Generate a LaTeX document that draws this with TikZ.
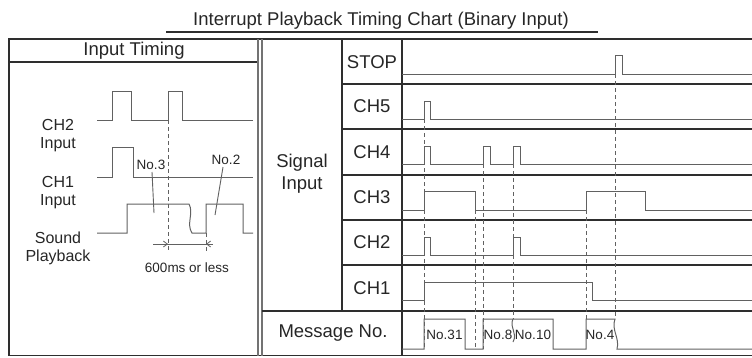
\documentclass[tikz,border=0pt]{standalone}
\usepackage{fontspec}
\setmainfont{Liberation Sans}
\usetikzlibrary{arrows.meta}
\begin{document}
\begin{tikzpicture}[x=1pt,y=-1pt,
  frame/.style={draw=black!82,line width=1.1pt},
  dbl/.style={draw=black!55,line width=1.1pt},
  wave/.style={draw=black!62,line width=1pt},
  guide/.style={draw=black!62,line width=0.9pt,dash pattern=on 4pt off 3pt},
  big/.style={font=\fontsize{18.5}{20}\selectfont,text=black!85,inner sep=0pt},
  mid/.style={font=\fontsize{16}{18}\selectfont,text=black!85,align=center,inner sep=0pt},
  small/.style={font=\fontsize{13.5}{15}\selectfont,text=black!85,inner sep=0pt}]
\useasboundingbox (0,0) rectangle (752,357);

% heading
\node[big] (title) at (381,21) {Interrupt Playback Timing Chart (Binary Input)};
\draw[frame] (166,32) -- (598,32);

% table frame
\draw[frame] (752,39) -- (9,39) -- (9,355.5) -- (752,355.5);
\draw[frame] (9,62) -- (258,62);
\draw[dbl] (258,39) -- (258,355.5);
\draw[dbl] (262,39) -- (262,355.5);
\draw[frame] (342,39) -- (342,311);
\draw[frame] (402,39) -- (402,355.5);
\foreach \y in {84,129,175,220,265} \draw[frame] (342,\y) -- (752,\y);
\draw[frame] (262,311) -- (752,311);

% column and row headings
\node[big] (hdr) at (134,51) {Input Timing};
\node[big,align=center] (sig) at (302,174) {Signal\\[2pt]Input};
\node[big] (stop) at (372,62) {STOP};
\node[big] (ch5) at (372,106.5) {CH5};
\node[big] (ch4) at (372,152) {CH4};
\node[big] (ch3) at (372,197.5) {CH3};
\node[big] (ch2) at (372,242.5) {CH2};
\node[big] (ch1) at (372,288) {CH1};
\node[big] (msg) at (333,333) {Message No.};

% input timing panel
\node[mid] (l2) at (58,136) {CH2\\Input};
\node[mid] (l1) at (58,193) {CH1\\Input};
\node[mid] (ls) at (58,248) {Sound\\Playback};

\draw[wave] (97,120) -- (112,120) -- (112,91) -- (131,91) -- (131,120) -- (168,120)
  -- (168,91) -- (182,91) -- (182,120) -- (253,120);
\draw[wave] (97,177) -- (112,177) -- (112,147) -- (133,147) -- (133,177) -- (253,177);
\draw[wave] (97,233) -- (127,233) -- (127,204) -- (189,204)
  .. controls (194,213) and (186,224) .. (192,233) -- (206,233) -- (206,204)
  -- (243,204) -- (243,233) -- (253,233);

\draw[guide] (168,120) -- (168,252);
\draw[guide] (206,233) -- (206,253);
\draw[wave,line width=0.8pt] (153,244) -- (213,244);
\draw[wave,line width=0.8pt,-{Straight Barb[length=4pt,width=6pt]}] (158,244) -- (168,244);
\draw[wave,line width=0.8pt,-{Straight Barb[length=4pt,width=6pt]}] (213,244) -- (206,244);
\node[small] (dur) at (187,268) {600ms or less};

\node[small] (n3) at (151,165) {No.3};
\node[small] (n2) at (226,160) {No.2};
\draw[wave,line width=0.9pt] (152,172) -- (154,213);
\draw[wave,line width=0.9pt] (223,167) -- (215,215);

% signal input waveforms
\draw[wave] (402,74) -- (615,74) -- (615,55) -- (622,55) -- (622,74) -- (752,74);
\draw[wave] (402,119) -- (424,119) -- (424,101) -- (430,101) -- (430,119) -- (752,119);
\draw[wave] (402,164) -- (424,164) -- (424,146) -- (430,146) -- (430,164) -- (483,164)
  -- (483,146) -- (490,146) -- (490,164) -- (513,164) -- (513,146) -- (520,146)
  -- (520,164) -- (752,164);
\draw[wave] (402,210) -- (424,210) -- (424,191) -- (475,191) -- (475,210) -- (586,210)
  -- (586,191) -- (645,191) -- (645,210) -- (752,210);
\draw[wave] (402,255) -- (424,255) -- (424,237) -- (430,237) -- (430,255) -- (513,255)
  -- (513,237) -- (520,237) -- (520,255) -- (752,255);
\draw[wave] (402,300) -- (424,300) -- (424,282) -- (592,282) -- (592,300) -- (752,300);

% message sequence
\draw[wave] (402,349) -- (424,349) -- (424,319) -- (465,319) -- (465,349) -- (483,349)
  -- (483,319) -- (553,319) -- (553,349) -- (586,349) -- (586,319) -- (615,319)
  .. controls (611,330) and (620,338) .. (617,349) -- (752,349);
\draw[wave] (513,319) .. controls (509,327) and (518,333) .. (513,342);

\node[small] (m31) at (444.5,335) {No.31};
\node[small] (m8) at (498,335) {No.8};
\node[small] (m10) at (533,335) {No.10};
\node[small] (m4) at (600,335) {No.4};

% timing guides
\draw[guide] (424,119) -- (424,349);
\draw[guide] (475,210) -- (475,349);
\draw[guide] (483,164) -- (483,349);
\draw[guide] (513,164) -- (513,319);
\draw[guide] (586,210) -- (586,319);
\draw[guide] (615,74) -- (615,319);
\end{tikzpicture}
\end{document}
